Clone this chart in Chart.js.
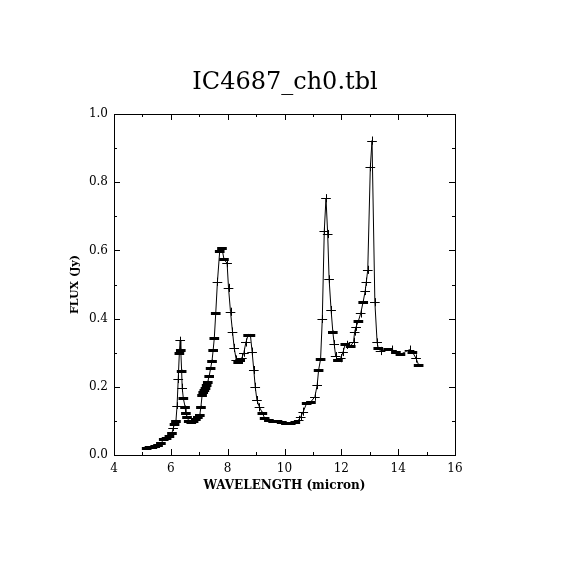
<!DOCTYPE html>
<html>
<head>
<meta charset="utf-8">
<script src="https://cdn.jsdelivr.net/npm/chart.js@4.4.1/dist/chart.umd.min.js"></script>
<style>
  html, body { margin: 0; padding: 0; background: #fff; }
</style>
</head>
<body>
<canvas id="spectrum" width="570" height="570"></canvas>
<script>
// IRS spectrum, values
const wavelength = [
  5.15, 5.25, 5.35, 5.45, 5.55, 5.65, 5.75, 5.85, 5.95, 6.04,
  6.08, 6.13, 6.18, 6.22, 6.26, 6.30, 6.33, 6.35, 6.38, 6.40,
  6.44, 6.50, 6.53, 6.57, 6.63, 6.72, 6.80, 6.88, 6.95, 7.02,
  7.06, 7.10, 7.14, 7.18, 7.22, 7.26, 7.30, 7.35, 7.40, 7.45,
  7.49, 7.53, 7.58, 7.64, 7.72, 7.80, 7.87, 7.98, 8.03, 8.10,
  8.17, 8.23, 8.30, 8.37, 8.44, 8.50, 8.57, 8.64, 8.72, 8.80,
  8.86, 8.92, 8.97, 9.03, 9.12, 9.22, 9.30, 9.45, 9.60, 9.75,
  9.90, 10.05, 10.22, 10.38, 10.50, 10.57, 10.66, 10.78, 10.93, 11.07,
  11.15, 11.20, 11.27, 11.33, 11.40, 11.46, 11.52, 11.57, 11.64, 11.70,
  11.75, 11.80, 11.88, 11.98, 12.06, 12.14, 12.20, 12.33, 12.43, 12.47,
  12.52, 12.60, 12.68, 12.77, 12.84, 12.88, 12.93, 13.02, 13.08, 13.18,
  13.26, 13.30, 13.38, 13.65, 13.78, 13.92, 14.08, 14.40, 14.50, 14.63,
  14.72
];
const flux = [
  0.020, 0.022, 0.024, 0.026, 0.030, 0.034, 0.046, 0.050, 0.055, 0.064,
  0.078, 0.090, 0.100, 0.145, 0.223, 0.300, 0.337, 0.308, 0.247, 0.197,
  0.166, 0.142, 0.122, 0.112, 0.100, 0.098, 0.100, 0.105, 0.112, 0.118,
  0.142, 0.175, 0.185, 0.190, 0.196, 0.205, 0.215, 0.232, 0.254, 0.277,
  0.308, 0.343, 0.415, 0.508, 0.598, 0.606, 0.574, 0.562, 0.490, 0.420,
  0.362, 0.314, 0.280, 0.272, 0.280, 0.285, 0.300, 0.330, 0.352, 0.352,
  0.303, 0.249, 0.200, 0.161, 0.140, 0.124, 0.108, 0.103, 0.100, 0.099,
  0.097, 0.095, 0.095, 0.097, 0.103, 0.112, 0.127, 0.152, 0.156, 0.171,
  0.205, 0.249, 0.281, 0.399, 0.658, 0.753, 0.648, 0.515, 0.425, 0.362,
  0.325, 0.290, 0.279, 0.284, 0.302, 0.325, 0.323, 0.320, 0.332, 0.362,
  0.376, 0.393, 0.415, 0.450, 0.481, 0.508, 0.543, 0.844, 0.922, 0.448,
  0.330, 0.313, 0.305, 0.310, 0.309, 0.303, 0.295, 0.309, 0.303, 0.283,
  0.264
];
const fluxErr = [
  0.003, 0.003, 0.003, 0.003, 0.003, 0.003, 0.003, 0.003, 0.003, 0.003,
  0.008, 0.003, 0.003, 0.010, 0.012, 0.003, 0.010, 0.003, 0.003, 0.012,
  0.003, 0.003, 0.003, 0.003, 0.003, 0.003, 0.003, 0.003, 0.003, 0.003,
  0.003, 0.003, 0.003, 0.003, 0.003, 0.003, 0.003, 0.003, 0.003, 0.003,
  0.003, 0.003, 0.003, 0.012, 0.003, 0.003, 0.003, 0.012, 0.012, 0.012,
  0.012, 0.012, 0.012, 0.003, 0.003, 0.012, 0.012, 0.012, 0.003, 0.003,
  0.012, 0.012, 0.012, 0.012, 0.012, 0.003, 0.003, 0.003, 0.003, 0.003,
  0.003, 0.003, 0.003, 0.003, 0.012, 0.012, 0.012, 0.003, 0.003, 0.012,
  0.012, 0.003, 0.003, 0.012, 0.012, 0.012, 0.012, 0.012, 0.012, 0.003,
  0.012, 0.012, 0.003, 0.012, 0.012, 0.003, 0.012, 0.003, 0.012, 0.012,
  0.012, 0.003, 0.012, 0.003, 0.012, 0.012, 0.012, 0.012, 0.012, 0.012,
  0.012, 0.003, 0.012, 0.003, 0.012, 0.003, 0.003, 0.012, 0.003, 0.012,
  0.003
];
const binHalfWidth = 0.17;  // micron, same for every point

const xMajor = [4, 6, 8, 10, 12, 14, 16];
const xMinor = [5, 7, 9, 11, 13, 15];
const yMajor = [0, 0.2, 0.4, 0.6, 0.8, 1.0];
const yMinor = [0.1, 0.3, 0.5, 0.7, 0.9];

const serif = "'DejaVu Serif', 'Liberation Serif', serif";

// box + inward ticks on all four sides
const frame = {
  id: 'frame',
  afterDraw(chart) {
    const {ctx, chartArea: a, scales: {x, y}} = chart;
    ctx.save();
    ctx.strokeStyle = '#000';
    ctx.lineWidth = 1;
    ctx.strokeRect(Math.round(a.left) + 0.5, Math.round(a.top) + 0.5,
                   Math.round(a.right - a.left), Math.round(a.bottom - a.top));
    ctx.beginPath();
    const tx = (v, len) => {
      const px = Math.round(x.getPixelForValue(v)) + 0.5;
      ctx.moveTo(px, a.bottom); ctx.lineTo(px, a.bottom - len);
      ctx.moveTo(px, a.top); ctx.lineTo(px, a.top + len);
    };
    const ty = (v, len) => {
      const py = Math.round(y.getPixelForValue(v)) + 0.5;
      ctx.moveTo(a.left, py); ctx.lineTo(a.left + len, py);
      ctx.moveTo(a.right, py); ctx.lineTo(a.right - len, py);
    };
    xMajor.forEach(v => tx(v, 6));
    xMinor.forEach(v => tx(v, 3));
    yMajor.forEach(v => ty(v, 6));
    yMinor.forEach(v => ty(v, 3));
    ctx.stroke();
    ctx.restore();
  }
};

// horizontal bin bar + vertical flux error for each point
const errorBars = {
  id: 'errorBars',
  afterDatasetsDraw(chart) {
    const {ctx, scales: {x, y}} = chart;
    ctx.save();
    ctx.strokeStyle = '#000';
    wavelength.forEach((w, i) => {
      const py = Math.round(y.getPixelForValue(flux[i])) + 0.5;
      const x0 = x.getPixelForValue(w - binHalfWidth);
      const x1 = x.getPixelForValue(w + binHalfWidth);
      const px = Math.round(x.getPixelForValue(w)) + 0.5;
      ctx.lineWidth = fluxErr[i] < 0.005 ? 3 : 1;
      ctx.beginPath();
      ctx.moveTo(x0, py); ctx.lineTo(x1, py);
      ctx.stroke();
      ctx.lineWidth = 1;
      ctx.beginPath();
      ctx.moveTo(px, y.getPixelForValue(flux[i] - fluxErr[i]));
      ctx.lineTo(px, y.getPixelForValue(flux[i] + fluxErr[i]));
      ctx.stroke();
    });
    ctx.restore();
  }
};

new Chart(document.getElementById('spectrum'), {
  type: 'line',
  data: {
    datasets: [{
      label: 'IC4687',
      data: wavelength.map((w, i) => ({x: w, y: flux[i]})),
      borderColor: '#000',
      borderWidth: 1,
      pointRadius: 0,
      tension: 0,
      fill: false,
    }]
  },
  options: {
    responsive: false,
    animation: false,
    layout: {padding: 0},
    plugins: {
      legend: {display: false},
      tooltip: {enabled: false},
      title: {
        display: true,
        text: 'IC4687_ch0.tbl',
        color: '#000',
        font: {family: serif, size: 24, weight: 'normal', lineHeight: 1.2},
        padding: {top: 68, bottom: 17.2},
      },
    },
    scales: {
      x: {
        type: 'linear',
        min: 4, max: 16,
        grid: {display: false, drawTicks: false},
        border: {display: false},
        ticks: {
          stepSize: 2,
          padding: 7,
          color: '#000',
          font: {family: serif, size: 12},
          maxRotation: 0,
          callback: v => String(v),
        },
        title: {
          display: true,
          text: 'WAVELENGTH (micron)',
          color: '#000',
          font: {family: serif, size: 12, weight: 'bold', lineHeight: 1.2},
          padding: {top: 0, bottom: 77},
        },
        afterFit(scale) { scale.height = 115; },
      },
      y: {
        type: 'linear',
        min: 0, max: 1,
        grid: {display: false, drawTicks: false},
        border: {display: false},
        ticks: {
          stepSize: 0.2,
          padding: 6,
          color: '#000',
          font: {family: serif, size: 12},
          callback: v => v.toFixed(1),
        },
        title: {
          display: true,
          text: 'FLUX (Jy)',
          color: '#000',
          font: {family: serif, size: 11, weight: 'bold', lineHeight: 1.2},
          padding: {top: 68.4, bottom: 0},
        },
        afterFit(scale) { scale.width = 114; },
      },
      // empty right-hand axis, only keeps the white margin so the title centres on the frame
      yRight: {
        type: 'linear',
        position: 'right',
        min: 0, max: 1,
        grid: {display: false, drawTicks: false},
        border: {display: false},
        ticks: {display: false},
        afterFit(scale) { scale.width = 115; },
      }
    }
  },
  plugins: [errorBars, frame]
});
</script>
</body>
</html>
